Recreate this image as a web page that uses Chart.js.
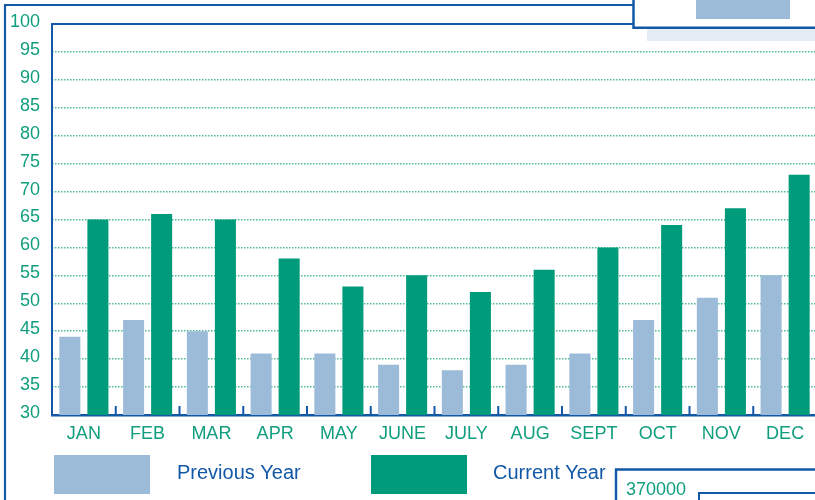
<!DOCTYPE html>
<html>
<head>
<meta charset="utf-8">
<script src="https://cdn.jsdelivr.net/npm/chart.js@4/dist/chart.umd.min.js"></script>
<style>
  html, body { margin: 0; padding: 0; background: #fff; overflow: hidden; }
  #wrap { position: relative; width: 815px; height: 500px; overflow: hidden; }
  canvas { display: block; }
</style>
</head>
<body>
<div id="wrap"><canvas id="salesChart" width="817" height="500"></canvas></div>
<script>
const months = ['JAN', 'FEB', 'MAR', 'APR', 'MAY', 'JUNE', 'JULY', 'AUG', 'SEPT', 'OCT', 'NOV', 'DEC'];
const previousYear = [44, 47, 45, 41, 41, 39, 38, 39, 41, 47, 51, 55];
const currentYear = [65, 66, 65, 58, 53, 55, 52, 56, 60, 64, 67, 73];
const yMin = 30, yMax = 100, yStep = 5;
const cornerLabel = '370000';

const BLUE = '#1258a6';
const TEXT_GREEN = '#109e7e';
const BAR_GREEN = '#009b7a';
const BAR_BLUE = '#9bbbd8';
const FONT = '"Liberation Sans", Arial, Helvetica, sans-serif';

// frame, tick marks, legend and the cut-off neighbour boxes
const decorations = {
    id: 'decorations',
    afterDatasetsDraw(chart) {
        const c = chart.ctx;
        const area = chart.chartArea;
        const x = chart.scales.x;
        c.save();
        // small ticks between months
        c.strokeStyle = BLUE;
        c.lineWidth = 2;
        for (let i = 1; i < months.length; i++) {
            const bx = (x.getPixelForValue(i - 1) + x.getPixelForValue(i)) / 2;
            c.beginPath();
            c.moveTo(bx, area.bottom);
            c.lineTo(bx, area.bottom - 9);
            c.stroke();
        }
        c.restore();
    },
    afterDraw(chart) {
        const c = chart.ctx;
        const area = chart.chartArea;
        c.save();
        c.strokeStyle = BLUE;
        c.lineCap = 'butt';

        // outer frame
        c.lineWidth = 2.2;
        c.beginPath();
        c.moveTo(5, 500); c.lineTo(5, 5); c.lineTo(633, 5);
        c.stroke();
        // inner plot frame
        c.lineWidth = 2;
        c.beginPath();
        c.moveTo(area.left, area.bottom); c.lineTo(area.left, area.top); c.lineTo(633, area.top);
        c.stroke();

        // top-right box (cut off)
        c.fillStyle = '#e4ecf5';
        c.fillRect(647, 29, 170, 12);
        c.fillStyle = '#fff';
        c.fillRect(634, 0, 183, 27);
        c.fillStyle = BAR_BLUE;
        c.fillRect(696, 0, 94, 19);
        c.lineWidth = 2.5;
        c.beginPath();
        c.moveTo(633.5, 0); c.lineTo(633.5, 27.8); c.lineTo(817, 27.8);
        c.stroke();

        // bottom-right box (cut off)
        c.lineWidth = 2.4;
        c.beginPath();
        c.moveTo(616, 500); c.lineTo(616, 469.5); c.lineTo(817, 469.5);
        c.stroke();
        c.lineWidth = 2;
        c.beginPath();
        c.moveTo(699, 500); c.lineTo(699, 493); c.lineTo(817, 493);
        c.stroke();
        c.fillStyle = TEXT_GREEN;
        c.font = '18px ' + FONT;
        c.textBaseline = 'alphabetic';
        c.textAlign = 'left';
        c.fillText(cornerLabel, 626, 495);

        // legend
        const items = [
            { ds: chart.data.datasets[0], box: 54, text: 177 },
            { ds: chart.data.datasets[1], box: 371, text: 493 }
        ];
        c.font = '20px ' + FONT;
        items.forEach(it => {
            c.fillStyle = it.ds.backgroundColor;
            c.fillRect(it.box, 455, 96, 39);
            c.fillStyle = BLUE;
            c.fillText(it.ds.label, it.text, 478.5);
        });
        c.restore();
    }
};

const ctx = document.getElementById('salesChart').getContext('2d');
const chart = new Chart(ctx, {
    type: 'bar',
    data: {
        labels: months,
        datasets: [{
            label: 'Previous Year',
            data: previousYear,
            backgroundColor: BAR_BLUE,
            borderWidth: 0,
            categoryPercentage: 0.88,
            barPercentage: 0.75
        }, {
            label: 'Current Year',
            data: currentYear,
            backgroundColor: BAR_GREEN,
            borderWidth: 0,
            categoryPercentage: 0.88,
            barPercentage: 0.75
        }]
    },
    options: {
        responsive: false,
        animation: false,
        devicePixelRatio: 1,
        layout: { padding: { top: 24, left: 0, right: 0, bottom: 0 } },
        plugins: {
            legend: { display: false },
            tooltip: { enabled: false }
        },
        scales: {
            x: {
                grid: { display: false, drawTicks: false },
                border: { display: true, color: BLUE, width: 2.5 },
                ticks: {
                    color: TEXT_GREEN,
                    font: { family: FONT, size: 18 },
                    padding: 8,
                    maxRotation: 0,
                    autoSkip: false
                },
                afterFit(scale) { scale.height = 85; }
            },
            y: {
                min: yMin,
                max: yMax,
                grid: {
                    drawTicks: false,
                    color: (c) => (c.tick && (c.tick.value === yMin || c.tick.value === yMax)) ? 'rgba(0,0,0,0)' : '#4fb99c',
                    lineWidth: 1.5
                },
                border: { display: false, dash: [1.5, 1.5] },
                ticks: {
                    stepSize: yStep,
                    color: TEXT_GREEN,
                    font: { family: FONT, size: 18 },
                    padding: 12,
                    labelOffset: -2
                },
                afterFit(scale) { scale.width = 52; }
            }
        }
    },
    plugins: [decorations]
});
</script>
</body>
</html>
